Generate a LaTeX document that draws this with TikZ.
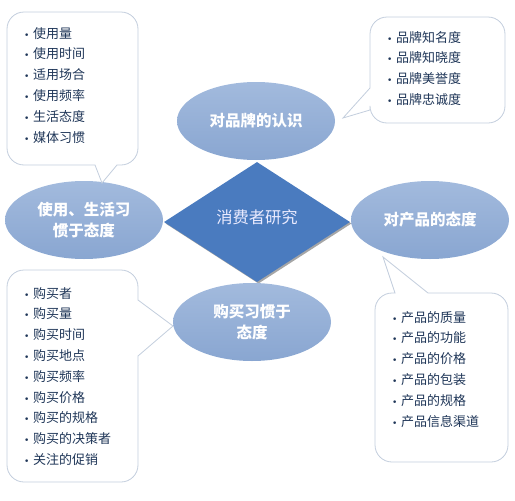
\documentclass[tikz,border=0pt]{standalone}
\usepackage{fontspec}
\setmainfont{Noto Sans CJK SC}
\newfontfamily\dejavu{DejaVu Sans}
\usetikzlibrary{shapes.geometric}
\definecolor{ellfill}{HTML}{92AED7}
\definecolor{ellfillB}{HTML}{89A6D1}
\definecolor{diafill}{HTML}{4A7BBF}
\definecolor{callline}{HTML}{C3CEDD}
\definecolor{itemtxt}{HTML}{1F3658}
\newcommand{\bul}{\makebox[9pt][l]{{\dejavu\fontsize{9}{9}\selectfont •}}}
\tikzset{
  topic/.style={ellipse, minimum width=158pt, minimum height=78pt, inner sep=0pt,
    top color=ellfill!85!white, bottom color=ellfillB, draw=none, text=white,
    font=\fontsize{15.5}{21.5}\selectfont\bfseries, align=center},
  callout/.style={draw=callline, line width=0.8pt, fill=white},
  itemlist/.style={anchor=base west, inner sep=0pt, align=left, text=itemtxt,
    font=\fontsize{13}{20.8}\selectfont},
}
\begin{document}
\begin{tikzpicture}[x=1pt,y=-1pt]
\useasboundingbox (0,0) rectangle (515,501);
% central diamond with shadow
\path[fill=black!35] (258.5,164.5) -- (351.5,223.5) -- (258.5,283.5) -- (165.5,223.5) -- cycle;
\node[diamond, fill=diafill, minimum width=186pt, minimum height=120pt, inner sep=0pt,
  aspect=1.55] (core) at (257,222) {};
\node[text=white!92!blue, font=\fontsize{16.3}{18}\selectfont] (coretxt) at (257,217) {消费者研究};
% topic ellipses
\node[topic] (brand) at (256,121) {对品牌的认识};
\node[topic] (use) at (84,220) {使用、生活习\\惯于态度};
\node[topic] (prod) at (430,220) {对产品的态度};
\node[topic] (buy) at (252,322) {购买习惯于\\态度};
% callouts
\draw[callout] (102,183) -- (95,165) [rounded corners=17pt] -- (7,165) -- (7,12) -- (138,12) -- (138,165) [sharp corners] -- (117,165) -- cycle;
\draw[callout] (343,118) -- (370,110) [rounded corners=17pt] -- (370,123) -- (505,123) -- (505,17) -- (370,17) [sharp corners] -- (370,88) -- cycle;
\draw[callout] (173,326) -- (138,356) [rounded corners=17pt] -- (138,482) -- (7,482) -- (7,270) -- (138,270) [sharp corners] -- (138,300) -- cycle;
\draw[callout] (383,257) -- (428,293) [rounded corners=17pt] -- (508,293) -- (508,462) -- (375,462) -- (375,293) [sharp corners] -- (395,293) -- cycle;
% item lists (anchored at the baseline of the last line)
\node[itemlist] (uselist) at (24,142) {\bul 使用量\\\bul 使用时间\\\bul 适用场合\\\bul 使用频率\\\bul 生活态度\\\bul 媒体习惯};
\node[itemlist] (brandlist) at (387,104.4) {\bul 品牌知名度\\\bul 品牌知晓度\\\bul 品牌美誉度\\\bul 品牌忠诚度};
\node[itemlist] (buylist) at (24,464.4) {\bul 购买者\\\bul 购买量\\\bul 购买时间\\\bul 购买地点\\\bul 购买频率\\\bul 购买价格\\\bul 购买的规格\\\bul 购买的决策者\\\bul 关注的促销};
\node[itemlist] (prodlist) at (392,426) {\bul 产品的质量\\\bul 产品的功能\\\bul 产品的价格\\\bul 产品的包装\\\bul 产品的规格\\\bul 产品信息渠道};
\end{tikzpicture}
\end{document}
